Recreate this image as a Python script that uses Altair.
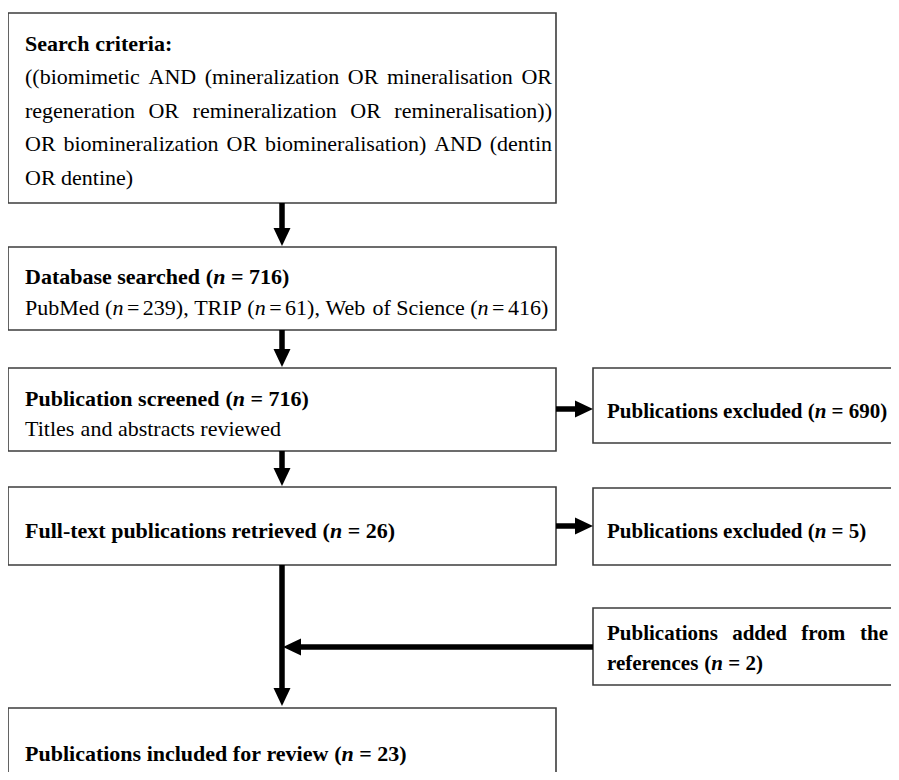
import re
import altair as alt
import pandas as pd

# ---------------- text content ----------------
criteria_lines = [
    [("Search criteria:", "b")],
    [("((biomimetic AND (mineralization OR mineralisation OR", "r")],
    [("regeneration OR remineralization OR remineralisation))", "r")],
    [("OR biomineralization OR biomineralisation) AND (dentin", "r")],
    [("OR dentine)", "r")],
]
database_lines = [
    [("Database searched (", "b"), ("n", "bi"), (" = 716)", "b")],
    [("PubMed (", "r"), ("n", "i"), (" = 239), TRIP (", "r"), ("n", "i"),
     (" = 61), Web of Science (", "r"), ("n", "i"), (" = 416)", "r")],
]
screened_lines = [
    [("Publication screened (", "b"), ("n", "bi"), (" = 716)", "b")],
    [("Titles and abstracts reviewed", "r")],
]
excluded1_lines = [[("Publications excluded (", "b"), ("n", "bi"), (" = 690)", "b")]]
fulltext_lines = [[("Full-text publications retrieved (", "b"), ("n", "bi"), (" = 26)", "b")]]
excluded2_lines = [[("Publications excluded (", "b"), ("n", "bi"), (" = 5)", "b")]]
added_lines = [
    [("Publications added from the", "b")],
    [("references (", "b"), ("n", "bi"), (" = 2)", "b")],
]
included_lines = [[("Publications included for review (", "b"), ("n", "bi"), (" = 23)", "b")]]

# ---------------- layout ----------------
FONT = "Liberation Serif"

# boxes (pixel layout of the flow diagram)
box_names = ["criteria", "database", "screened", "excl1", "fulltext", "excl2", "added", "included"]
box_x = [8, 8, 8, 593, 8, 593, 593, 8]
box_x2 = [556, 556, 556, 915, 556, 915, 915, 556]
box_y = [13, 247, 368, 368, 487, 488, 608, 708]
box_y2 = [203, 330, 451, 443, 565, 565, 685, 800]

# text blocks: lines, left x, baselines, justify-to (per line), font size
blocks = [
    (criteria_lines, 25, [51, 84, 118, 151, 185], [None, 552, 552, 552, None], 22),
    (database_lines, 25, [284, 315], [None, None], 22),
    (screened_lines, 25, [406, 436], [None, None], 22),
    (excluded1_lines, 607, [418], [None], 21),
    (fulltext_lines, 25, [538], [None], 22),
    (excluded2_lines, 607, [538], [None], 21),
    (added_lines, 607, [640, 670], [888, None], 21),
    (included_lines, 25, [761], [None], 22),
]

# Times metrics (1/1000 em)
REG = dict(zip("abcdefghijklmnopqrstuvwxyz",
               [444, 500, 444, 500, 444, 333, 500, 500, 278, 278, 500, 278, 778,
                500, 500, 500, 500, 333, 389, 278, 500, 500, 722, 500, 500, 444]))
REG.update(zip("ABCDEFGHIJKLMNOPQRSTUVWXYZ",
               [722, 667, 667, 722, 611, 556, 722, 722, 333, 389, 722, 611, 889,
                722, 722, 556, 722, 667, 556, 611, 722, 722, 944, 722, 722, 611]))
REG.update({" ": 250, "(": 333, ")": 333, ",": 250, "-": 333, ".": 250, ":": 278, "=": 564})
BOLD = dict(zip("abcdefghijklmnopqrstuvwxyz",
                [500, 556, 444, 556, 444, 333, 500, 556, 278, 333, 556, 278, 833,
                 556, 500, 556, 556, 444, 389, 333, 556, 500, 722, 500, 500, 444]))
BOLD.update(zip("ABCDEFGHIJKLMNOPQRSTUVWXYZ",
                [722, 667, 722, 722, 667, 611, 778, 778, 389, 500, 778, 667, 944,
                 722, 778, 611, 778, 722, 556, 667, 722, 722, 1000, 722, 722, 667]))
BOLD.update({" ": 250, "(": 333, ")": 333, ",": 250, "-": 333, ".": 250, ":": 333, "=": 570})


def text_width(s, style, fs):
    table = BOLD if style in ("b", "bi") else REG
    w = 0
    for ch in s:
        if style == "i" and ch == "n":
            w += 500
        elif style == "bi" and ch == "n":
            w += 556
        else:
            w += table.get(ch, 500)
    return w * fs / 1000.0


def space_width(style, fs, prev_piece, next_piece):
    # the regular-weight lines use narrower spaces around "="
    if style in ("r", "i") and ("=" in (prev_piece, next_piece)):
        return 0.16 * fs
    return 0.25 * fs


rows = []
for lines, x0, baselines, justify, fs in blocks:
    for segs, base, jx in zip(lines, baselines, justify):
        pieces = []
        for t, s in segs:
            for piece in re.split(r"( )", t):
                if piece:
                    pieces.append((piece, s))
        widths = []
        for i, (p, s) in enumerate(pieces):
            if p == " ":
                prev_p = pieces[i - 1][0] if i > 0 else ""
                next_p = pieces[i + 1][0] if i + 1 < len(pieces) else ""
                widths.append(space_width(s, fs, prev_p, next_p))
            else:
                widths.append(text_width(p, s, fs))
        nsp = sum(1 for p, s in pieces if p == " ")
        natural = sum(widths)
        extra = (jx - x0 - natural) / nsp if (jx is not None and nsp) else 0.0
        x = x0
        for (p, s), w in zip(pieces, widths):
            if p == " ":
                x += w + extra
            else:
                rows.append({"x": x, "y": base, "text": p, "style": s, "fs": fs})
                x += w
text_df = pd.DataFrame(rows)

box_df = pd.DataFrame({"name": box_names, "x": box_x, "x2": box_x2, "y": box_y, "y2": box_y2})

# arrow shafts and heads (tip position + direction)
shaft_x = [282, 282, 282, 282, 556, 556, 593]
shaft_x2 = [282, 282, 282, 282, 578, 578, 299]
shaft_y = [203, 330, 451, 565, 409, 526, 647]
shaft_y2 = [231, 352, 471, 691, 409, 526, 647]
shaft_df = pd.DataFrame({"x": shaft_x, "x2": shaft_x2, "y": shaft_y, "y2": shaft_y2})

HEAD_L = 18
head_tip_x = [282, 282, 282, 282, 593, 593, 283]
head_tip_y = [246, 367, 486, 706, 409, 526, 647]
head_dir = ["down", "down", "down", "down", "right", "right", "left"]
cx, cy = [], []
for tx, ty, d in zip(head_tip_x, head_tip_y, head_dir):
    if d == "down":
        cx.append(tx); cy.append(ty - HEAD_L / 2)
    elif d == "right":
        cx.append(tx - HEAD_L / 2); cy.append(ty)
    else:
        cx.append(tx + HEAD_L / 2); cy.append(ty)
head_df = pd.DataFrame({"x": cx, "y": cy, "dir": head_dir})

W, H = 883, 764
xs = alt.Scale(domain=[8, 8 + W], nice=False, zero=False)
ys = alt.Scale(domain=[8, 8 + H], nice=False, zero=False, reverse=True)
X = lambda f: alt.X(f, type="quantitative", scale=xs, axis=None)
Y = lambda f: alt.Y(f, type="quantitative", scale=ys, axis=None)

boxes = alt.Chart(box_df).mark_rect(fill="white", stroke="#3c3c3c", strokeWidth=1.6).encode(
    x=X("x"), x2="x2", y=Y("y"), y2="y2")

shafts = alt.Chart(shaft_df).mark_rule(color="black", strokeWidth=5.5, strokeCap="butt").encode(
    x=X("x"), x2="x2", y=Y("y"), y2="y2")

DOWN = "M -0.944 -1 L 0.944 -1 L 0 1 Z"
RIGHT = "M -1 -0.944 L 1 0 L -1 0.944 Z"
LEFT = "M 1 -0.944 L -1 0 L 1 0.944 Z"
head_layers = []
for d, path in [("down", DOWN), ("right", RIGHT), ("left", LEFT)]:
    head_layers.append(
        alt.Chart(head_df).transform_filter(alt.datum.dir == d).mark_point(
            shape=path, filled=True, color="black", opacity=1, size=HEAD_L ** 2,
            strokeWidth=0).encode(x=X("x"), y=Y("y"))
    )

text_layers = []
for style, weight, fstyle in [("r", "normal", "normal"), ("i", "normal", "italic"),
                              ("b", "bold", "normal"), ("bi", "bold", "italic")]:
    text_layers.append(
        alt.Chart(text_df).transform_filter(alt.datum.style == style).mark_text(
            align="left", baseline="alphabetic", font=FONT,
            fontWeight=weight, fontStyle=fstyle, color="black").encode(
            x=X("x"), y=Y("y"), text="text:N", size=alt.Size("fs:Q", scale=None))
    )

chart = alt.layer(boxes, shafts, *head_layers, *text_layers).properties(
    width=W, height=H, autosize=alt.AutoSizeParams(type="none"), padding=0,
    background="white").configure_view(stroke=None)

chart.save("out.html", embed_options={"renderer": "svg", "actions": False})
